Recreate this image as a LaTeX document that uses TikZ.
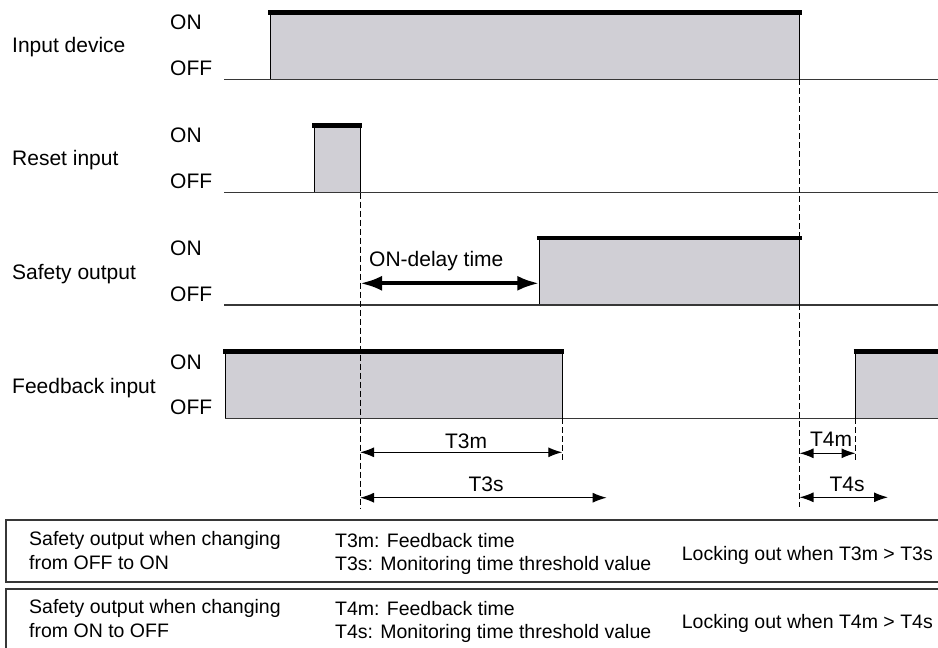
\documentclass[tikz,border=0pt]{standalone}
\usepackage{fontspec}
\setmainfont{Liberation Sans}
\usetikzlibrary{arrows.meta}
\definecolor{pulsegray}{RGB}{208,207,213}
\definecolor{edgegray}{RGB}{55,55,55}
\newcommand\drawpulse[3]{%
  \fill[pulsegray] (#1,#3-67) rectangle (#2,#3);
  \draw[pedge] (#1,#3-67) -- (#1,#3);
  \draw[pedge] (#2,#3-67) -- (#2,#3);
  \draw[topbar] (#1-2,#3-67) -- (#2+2,#3-67);}
\begin{document}
\begin{tikzpicture}[x=1pt,y=-1pt,
  lbl/.style={anchor=base west, font=\fontsize{21}{24}\selectfont, inner sep=0pt},
  tlbl/.style={anchor=base, font=\fontsize{21}{24}\selectfont, inner sep=0pt},
  tbl/.style={anchor=base west, font=\fontsize{19.5}{23}\selectfont, inner sep=0pt},
  baseln/.style={line width=1.2pt, draw=edgegray},
  pedge/.style={line width=1pt, draw=black},
  topbar/.style={line width=4.5pt, draw=black},
  guide/.style={line width=1pt, dash pattern=on 6pt off 3pt},
  meas/.style={line width=1.2pt, {Latex[length=14pt,width=10pt]}-{Latex[length=14pt,width=10pt]}},
  bigmeas/.style={line width=4pt, {Latex[length=22pt,width=15pt]}-{Latex[length=22pt,width=15pt]}},
  boxln/.style={line width=1.3pt, draw=edgegray}]
\useasboundingbox (0,0) rectangle (938,648);

% row labels
\node[lbl] (l1) at (12,52) {Input device};
\node[lbl] (l1on) at (170,29) {ON};
\node[lbl] (l1off) at (170,75) {OFF};
\node[lbl] (l2) at (12,165) {Reset input};
\node[lbl] (l2on) at (170,142) {ON};
\node[lbl] (l2off) at (170,188) {OFF};
\node[lbl] (l3) at (12,279) {Safety output};
\node[lbl] (l3on) at (170,255.5) {ON};
\node[lbl] (l3off) at (170,301) {OFF};
\node[lbl] (l4) at (12,393) {Feedback input};
\node[lbl] (l4on) at (170,369) {ON};
\node[lbl] (l4off) at (170,414) {OFF};

% pulses
\drawpulse{270}{799.5}{79.3}
\drawpulse{314.3}{360}{192.5}
\drawpulse{539.3}{799.5}{305}
\drawpulse{225}{562.3}{418.3}
\fill[pulsegray] (855.5,351.3) rectangle (938,418.3);
\draw[pedge] (855.5,351.3) -- (855.5,418.3);
\draw[topbar] (853.5,351.3) -- (940,351.3);

% baselines
\draw[baseln] (224,79.3) -- (938,79.3);
\draw[baseln] (224,192.5) -- (938,192.5);
\draw[baseln] (224,305) -- (938,305);
\draw[baseln] (225,418.3) -- (938,418.3);

% guide lines
\coordinate (g1t) at (360,192.5);
\coordinate (g1b) at (360,508);
\coordinate (g2t) at (799.5,79.3);
\coordinate (g2b) at (799.5,507);
\coordinate (g3t) at (562.3,418.3);
\coordinate (g3b) at (562.3,463);
\coordinate (g4t) at (855.5,418.3);
\coordinate (g4b) at (855.5,463);
\draw[guide] (g1t) -- (g1b);
\draw[guide] (g2t) -- (g2b);
\draw[guide] (g3t) -- (g3b);
\draw[guide] (g4t) -- (g4b);

% ON-delay
\node[lbl] (ond) at (369,266.7) {ON-delay time};
\coordinate (od1) at (360,283.3);
\coordinate (od2) at (539.3,283.3);
\draw[bigmeas] (od1) -- (od2);

% T3m / T3s
\node[tlbl] (t3m) at (466,448) {T3m};
\coordinate (a3m1) at (360,452.3);
\coordinate (a3m2) at (562.3,452.3);
\draw[meas] (a3m1) -- (a3m2);
\node[tlbl] (t3s) at (486,491.7) {T3s};
\coordinate (a3s1) at (360,497.7);
\coordinate (a3s2) at (606.7,497.7);
\draw[meas] (a3s1) -- (a3s2);

% T4m / T4s
\node[tlbl] (t4m) at (831,446) {T4m};
\coordinate (a4m1) at (799.5,453.3);
\coordinate (a4m2) at (855.5,453.3);
\draw[meas] (a4m1) -- (a4m2);
\node[tlbl] (t4s) at (847,491.7) {T4s};
\coordinate (a4s1) at (799.5,497.3);
\coordinate (a4s2) at (888,497.3);
\draw[meas] (a4s1) -- (a4s2);

% table
\draw[boxln] (945,520) -- (6,520) -- (6,582) -- (945,582);
\draw[boxln] (945,589) -- (6,589) -- (6,652);
\node[tbl] (b1a) at (29,545) {Safety output when changing};
\node[tbl] (b1b) at (29,569) {from OFF to ON};
\node[tbl] (b1c) at (335,547) {T3m: Feedback time};
\node[tbl] (b1d) at (335,570) {T3s: Monitoring time threshold value};
\node[tbl, anchor=base east] (b1e) at (933,560) {Locking out when T3m > T3s};
\node[tbl] (b2a) at (29,613.3) {Safety output when changing};
\node[tbl] (b2b) at (29,637) {from ON to OFF};
\node[tbl] (b2c) at (335,615) {T4m: Feedback time};
\node[tbl] (b2d) at (335,638) {T4s: Monitoring time threshold value};
\node[tbl, anchor=base east] (b2e) at (933,628.3) {Locking out when T4m > T4s};
\end{tikzpicture}
\end{document}
